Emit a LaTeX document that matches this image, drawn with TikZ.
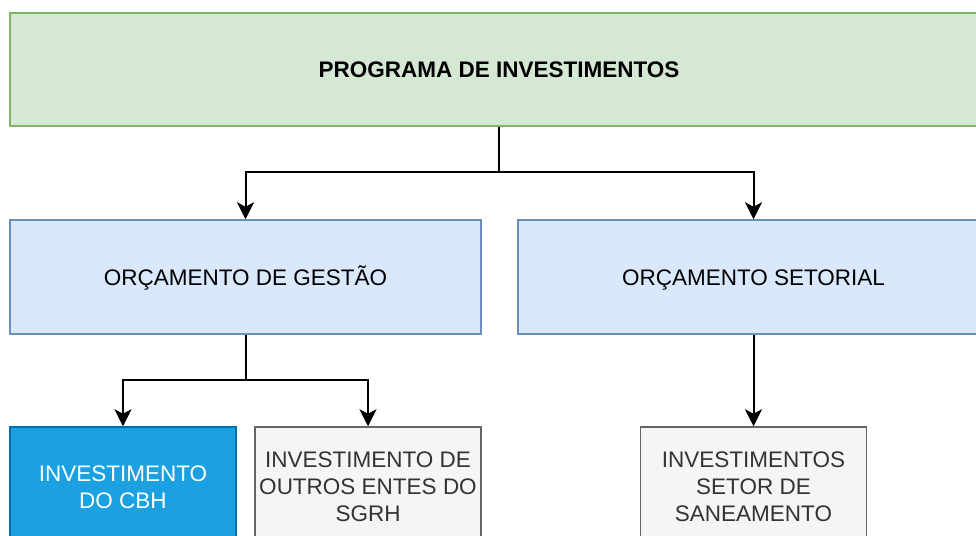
\documentclass[tikz,border=0pt]{standalone}
\usepackage{fontspec}
\setmainfont{Liberation Sans}
\usetikzlibrary{positioning,arrows.meta}
\definecolor{proggreen}{HTML}{82B366}
\definecolor{progbg}{HTML}{D5E8D4}
\definecolor{orcblue}{HTML}{6C8EBF}
\definecolor{orcbg}{HTML}{DAE8FC}
\definecolor{cbhblue}{HTML}{006EAF}
\definecolor{cbhbg}{HTML}{1BA1E2}
\definecolor{invgrey}{HTML}{666666}
\definecolor{invbg}{HTML}{F5F5F5}
\definecolor{invtext}{HTML}{333333}
\tikzset{
  box/.style={
    draw, align=center, inner sep=4pt, line width=1.5pt,
    font=\fontsize{22.5}{27}\selectfont,
  },
  prog/.style ={box, draw=proggreen, fill=progbg, text=black,
                font=\fontsize{22.5}{27}\selectfont\bfseries,
                text height=21pt, text depth=5pt},
  orc/.style  ={box, draw=orcblue, fill=orcbg, text=black,
                text height=21pt, text depth=5pt},
  cbh/.style  ={box, draw=cbhblue, fill=cbhbg, text=white},
  inv/.style  ={box, draw=invgrey, fill=invbg, text=invtext},
  flow/.style ={-{Stealth[length=17pt,width=17pt,inset=4.5pt]}, draw=black,
                line width=2pt},
}
\begin{document}
\begin{tikzpicture}[x=1pt, y=-1pt]
\clip (0,0) rectangle (976,535);
\fill[white] (0,0) rectangle (976,535);

% ============================================ top level
\node[prog, minimum width=978pt, minimum height=113pt] (programa) at (499,69.5)
  {PROGRAMA DE INVESTIMENTOS};

% ============================================ budgets
\node[orc, minimum width=471pt, minimum height=114pt] (gestao) at (245.5,277)
  {ORÇAMENTO DE GESTÃO};
\node[orc, minimum width=471pt, minimum height=114pt] (setorial) at (753.5,277)
  {ORÇAMENTO SETORIAL};

% ============================================ investments
\node[cbh, minimum width=226pt, minimum height=120pt] (cbh) at (123,487)
  {INVESTIMENTO\\DO CBH};
\node[inv, minimum width=226pt, minimum height=120pt] (sgrh) at (368,487)
  {INVESTIMENTO DE\\OUTROS ENTES DO\\SGRH};
\node[inv, minimum width=226pt, minimum height=120pt] (saneamento) at (753.5,487)
  {INVESTIMENTOS\\SETOR DE\\SANEAMENTO};

% ============================================ connectors
\coordinate (split1) at (499,172);
\coordinate (split2) at (245.5,380);
\draw[flow] (programa.south) -- (split1) -| (gestao.north);
\draw[flow] (programa.south) -- (split1) -| (setorial.north);
\draw[flow] (gestao.south) -- (split2) -| (cbh.north);
\draw[flow] (gestao.south) -- (split2) -| (sgrh.north);
\draw[flow] (setorial.south) -- (saneamento.north);

\end{tikzpicture}
\end{document}
